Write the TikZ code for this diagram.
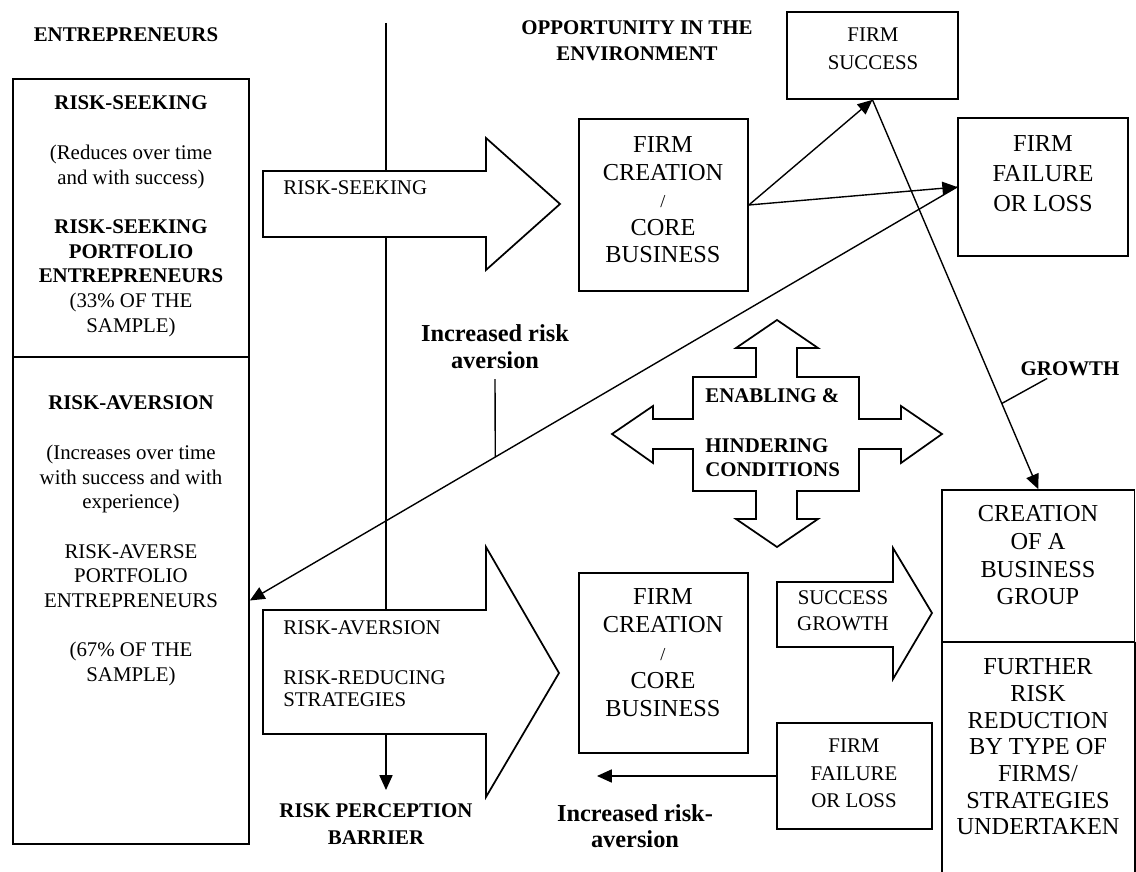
\documentclass[tikz,border=0pt]{standalone}
\usepackage{fontspec}
\setmainfont{Liberation Serif}
\usetikzlibrary{arrows.meta,fit,calc}
\newcommand\fsz[2]{\fontsize{#1}{#2}\selectfont}
\newcommand\mlc[1]{\begin{tabular}[t]{@{}c@{}}#1\end{tabular}}
\newcommand\mll[1]{\begin{tabular}[t]{@{}l@{}}#1\end{tabular}}
\begin{document}
\begin{tikzpicture}[x=0.575pt,y=-0.575pt,
  box/.style={draw,line width=1pt,inner sep=0pt},
  lbl/.style={inner sep=0pt,anchor=base},
  conn/.style={line width=0.8pt},
  blockarrow/.style={draw,line width=1pt,fill=white,line join=miter},
  >={Triangle[length=8.5pt,width=7.5pt]}]
\useasboundingbox (0,0) rectangle (1136,872);

% vertical risk perception barrier line
\coordinate (vtop) at (386,23);
\coordinate (vbot) at (386,790);
\draw[conn,->] (vtop) -- (vbot);

% titles
\node[lbl,font=\fsz{12}{13.8}\bfseries] (entr) at (126,42) {ENTREPRENEURS};
\node[lbl,font=\fsz{12}{14.4}\bfseries] (opp) at (637,35) {\mlc{OPPORTUNITY IN THE\\ENVIRONMENT}};

% left box
\node[box,fit={(13,79) (249,357)}] (lbtop) {};
\node[box,fit={(13,357) (249,844)}] (lbbot) {};
\node[lbl,font=\fsz{12}{14.2}] (lttxt) at (131,110) {\mlc{\textbf{RISK-SEEKING}\\ \\(Reduces over time\\and with success)\\ \\\textbf{RISK-SEEKING}\\\textbf{PORTFOLIO}\\\textbf{ENTREPRENEURS}\\(33\% OF THE\\SAMPLE)}};
\node[lbl,font=\fsz{12}{14.2}] (lbtxt) at (131,410) {\mlc{\textbf{RISK-AVERSION}\\ \\(Increases over time\\with success and with\\experience)\\ \\RISK-AVERSE\\PORTFOLIO\\ENTREPRENEURS\\ \\(67\% OF THE\\SAMPLE)}};

% risk-seeking block arrow
\draw[blockarrow] (263,171) -- (486,171) -- (486,138) -- (560,204) -- (486,270) -- (486,237) -- (263,237) -- cycle;
\node[lbl,anchor=base west,font=\fsz{12}{13.8}] (rs) at (283,195) {RISK-SEEKING};

% risk-aversion block arrow
\draw[blockarrow] (263,610) -- (486,610) -- (486,547) -- (559,673) -- (486,797) -- (486,734) -- (263,734) -- cycle;
\node[lbl,anchor=base west,font=\fsz{12}{12.65}] (ra) at (283,635) {\mll{RISK-AVERSION\\[3.45pt] \\RISK-REDUCING\\STRATEGIES}};

\node[lbl,font=\fsz{12}{15.5}\bfseries] (rpb) at (376,818) {\mlc{RISK PERCEPTION\\BARRIER}};

% firm creation boxes
\node[box,fit={(579,119) (748,291)}] (fc1) {};
\node[lbl,font=\fsz{14}{15.8}] (fc1t) at (663,153) {\mlc{FIRM\\CREATION\\{\fsz{10.5}{10}/}\\CORE\\BUSINESS}};
\node[box,fit={(579,573) (748,753)}] (fc2) {};
\node[lbl,font=\fsz{14}{15.96}] (fc2t) at (663,605) {\mlc{FIRM\\CREATION\\{\fsz{10.5}{10}/}\\CORE\\BUSINESS}};

% firm success / failure
\node[box,fit={(787,12) (958,99)}] (fs) {};
\node[lbl,font=\fsz{12}{16.1}] (fst) at (873,42) {\mlc{FIRM\\SUCCESS}};
\node[box,fit={(958,118) (1128,256)}] (ff1) {};
\node[lbl,font=\fsz{14}{17.25}] (ff1t) at (1043,152) {\mlc{FIRM\\FAILURE\\OR LOSS}};

\draw[conn,->] (fc1.east) -- (fs.south);
\draw[conn,->] (fc1.east) -- (ff1.west);

% long increased risk aversion line
\draw[conn,->] (ff1.west) -- (lbbot.east) coordinate[pos=0.653] (iraPt);
\node[lbl,font=\fsz{14}{15}\bfseries] (ira) at (495,342) {\mlc{Increased risk\\aversion}};
\draw[conn] ([yshift=-1.7pt]ira.south) -- (iraPt);

% enabling & hindering conditions
\draw[blockarrow] (777,320) -- (818,348) -- (797,348) -- (797,377) -- (859,377) -- (859,419) -- (901,419) -- (901,406) -- (942,434) -- (901,463) -- (901,449) -- (859,449) -- (859,491) -- (797,491) -- (797,519) -- (818,519) -- (777,547) -- (736,519) -- (756,519) -- (756,491) -- (693,491) -- (693,449) -- (653,449) -- (653,463) -- (612,434) -- (653,406) -- (653,419) -- (693,419) -- (693,377) -- (756,377) -- (756,348) -- (736,348) -- cycle;
\node[lbl,anchor=base west,font=\fsz{12}{14.1}\bfseries] (ehc) at (705,403) {\mll{ENABLING \&\\ \\HINDERING\\CONDITIONS}};

% business group
\node[box,fit={(942,490) (1134.5,642)}] (cbg) {};
\node[lbl,font=\fsz{14}{15.9}] (cbgt) at (1038,522) {\mlc{CREATION\\OF A\\BUSINESS\\GROUP}};
\node[inner sep=0pt,fit={(942,642) (1134.5,872)}] (frr) {};
\draw[line width=1pt] (frr.north west) -- (frr.south west);
\draw[line width=1pt] (frr.north east) -- (frr.south east);
\node[lbl,font=\fsz{14}{15.33}] (frrt) at (1038,675) {\mlc{FURTHER\\RISK\\REDUCTION\\BY TYPE OF\\FIRMS/\\STRATEGIES\\UNDERTAKEN}};

% growth line
\draw[conn,->] (fs.south) -- (cbg.north) coordinate[pos=0.78] (grPt);
\node[lbl,font=\fsz{12}{13.8}\bfseries] (growth) at (1070,376) {GROWTH};
\draw[conn] ($(growth.south west)!0.27!(growth.south east)+(0,-1pt)$) -- (grPt);

% success growth arrow
\draw[blockarrow] (777,582) -- (893,582) -- (893,548) -- (932,613) -- (893,679) -- (893,647) -- (777,647) -- cycle;
\node[lbl,font=\fsz{12}{14.4}] (sg) at (843,605) {\mlc{SUCCESS\\GROWTH}};

% firm failure (bottom)
\node[box,fit={(777,723) (932,829)}] (ff2) {};
\node[lbl,font=\fsz{12}{15.8}] (ff2t) at (854,753) {\mlc{FIRM\\FAILURE\\OR LOSS}};
\coordinate (iraEnd) at (597,776);
\draw[conn,->] (ff2.west) -- (iraEnd);
\node[lbl,font=\fsz{14}{14.4}\bfseries] (ira2) at (635,822) {\mlc{Increased risk-\\aversion}};
\end{tikzpicture}
\end{document}
